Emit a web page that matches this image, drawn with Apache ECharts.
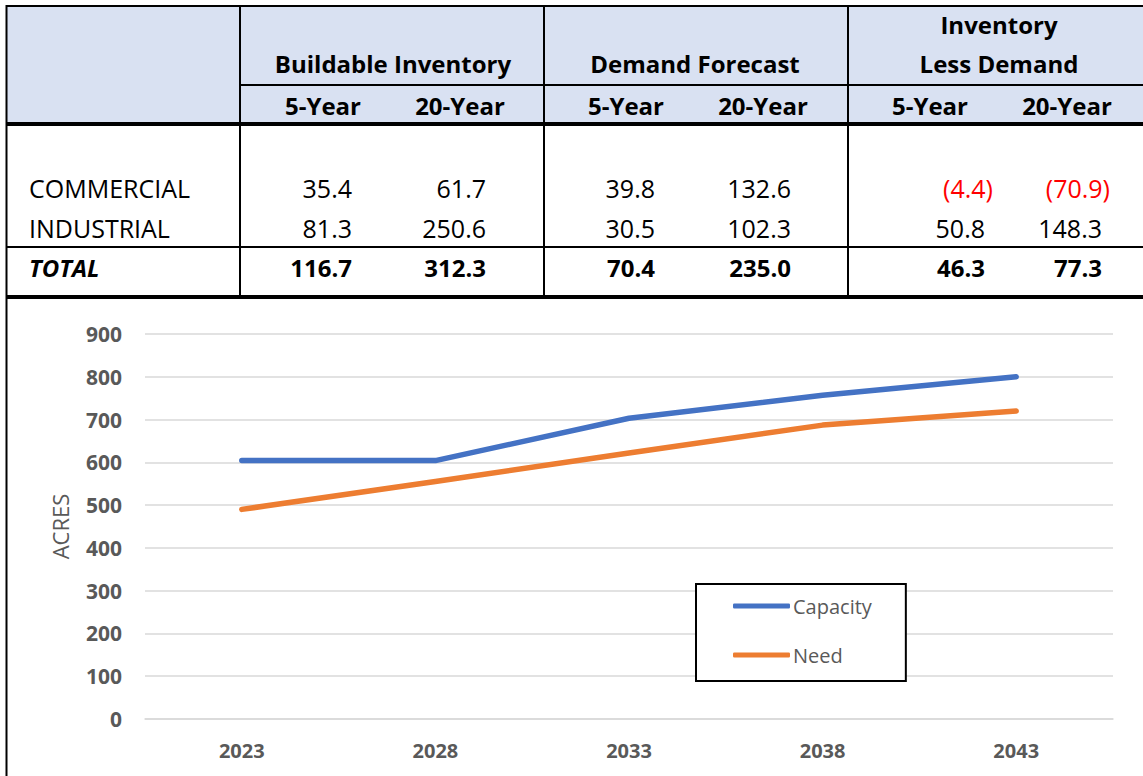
<!DOCTYPE html>
<html>
<head>
<meta charset="utf-8">
<title>Buildable Inventory vs Demand Forecast</title>
<script src="https://cdn.jsdelivr.net/npm/echarts@6/dist/echarts.min.js"></script>
<style>
  html, body { margin: 0; padding: 0; background: #ffffff; }
  #chart { width: 1143px; height: 776px; }
</style>
</head>
<body>
<div id="chart"></div>
<script>
// ---- Summary table data (acres) ----
const rowLabels = ['COMMERCIAL', 'INDUSTRIAL', 'TOTAL'];
const groupHeaders = ['Buildable Inventory', 'Demand Forecast', 'Inventory\nLess Demand'];
const subHeaders = ['5-Year', '20-Year', '5-Year', '20-Year', '5-Year', '20-Year'];
const buildable5 = [35.4, 81.3, 116.7];
const buildable20 = [61.7, 250.6, 312.3];
const demand5 = [39.8, 30.5, 70.4];
const demand20 = [132.6, 102.3, 235.0];
const lessDemand5 = [-4.4, 50.8, 46.3];
const lessDemand20 = [-70.9, 148.3, 77.3];

// ---- Line chart data ----
const years = ['2023', '2028', '2033', '2038', '2043'];
const capacity = [604, 604, 703, 757, 800];
const need = [490, 555, 622, 687, 720];
const yTicks = [0, 100, 200, 300, 400, 500, 600, 700, 800, 900];

// ---- Table layout ----
const FONT = '"Open Sans", "Noto Sans", sans-serif';
const W = 1143;
const groupCenters = [393, 695, 999];
const subCenters = [323, 460, 626, 763, 930, 1067];
const valueRight = [352, 486, 655, 791, 985, 1102];
const rowY = [187.5, 227.5, 267.5];
const columns = [buildable5, buildable20, demand5, demand20, lessDemand5, lessDemand20];

function text(x, y, s, o) {
  o = o || {};
  return {
    type: 'text', x: x, y: y, z: 20, silent: true,
    style: {
      text: s,
      fontFamily: FONT,
      fontSize: o.size || 25,
      fontWeight: o.weight || 'normal',
      fontStyle: o.italic ? 'italic' : 'normal',
      fill: o.color || '#000000',
      align: o.align || 'center',
      verticalAlign: 'middle',
      textAlign: o.align || 'center',
      textVerticalAlign: 'middle'
    }
  };
}
function hline(y, x1, x2, w) {
  return { type: 'line', z: 21, silent: true, shape: { x1: x1, y1: y, x2: x2, y2: y }, style: { stroke: '#000000', lineWidth: w } };
}
function vline(x, y1, y2, w) {
  return { type: 'line', z: 21, silent: true, shape: { x1: x, y1: y1, x2: x, y2: y2 }, style: { stroke: '#000000', lineWidth: w } };
}
// accounting style: negatives in parentheses, closing paren hangs past the column edge
function fmt(v) {
  return v < 0 ? '(' + Math.abs(v).toFixed(1) + ')' : v.toFixed(1);
}

const tableEls = [];
// header shading
tableEls.push({ type: 'rect', z: 19, silent: true, shape: { x: 7, y: 7, width: W - 7, height: 116 }, style: { fill: '#D9E1F2' } });
// group headers
tableEls.push(text(groupCenters[0], 63.5, groupHeaders[0], { size: 24, weight: 'bold' }));
tableEls.push(text(groupCenters[1], 63.5, groupHeaders[1], { size: 24, weight: 'bold' }));
const lastGroup = groupHeaders[2].split('\n');
tableEls.push(text(groupCenters[2], 24.5, lastGroup[0], { size: 24, weight: 'bold' }));
tableEls.push(text(groupCenters[2], 63.5, lastGroup[1], { size: 24, weight: 'bold' }));
// sub headers
subHeaders.forEach(function (s, i) {
  tableEls.push(text(subCenters[i], 105, s, { size: 24, weight: 'bold' }));
});
// body rows
rowLabels.forEach(function (lab, r) {
  const isTotal = r === rowLabels.length - 1;
  tableEls.push(text(29, rowY[r], lab, { align: 'left', weight: isTotal ? 'bold' : 'normal', italic: isTotal, size: isTotal ? 24 : 25 }));
  columns.forEach(function (col, c) {
    const v = col[r];
    tableEls.push(text(valueRight[c] + (v < 0 ? 8 : 0), rowY[r], fmt(v), {
      align: 'right',
      weight: isTotal ? 'bold' : 'normal',
      size: isTotal ? 24 : 25,
      color: v < 0 ? '#FF0000' : '#000000'
    }));
  });
});
// rules
tableEls.push(hline(6, 6, W, 2));
tableEls.push(hline(85, 240, W, 2));
tableEls.push(hline(124, 6, W, 4));
tableEls.push(hline(247, 6, W, 2));
tableEls.push(hline(297, 6, W, 4));
tableEls.push(vline(6.5, 5, 776, 2));
[240, 544, 848].forEach(function (x) { tableEls.push(vline(x, 6, 297, 2)); });

// ---- Chart ----
const chart = echarts.init(document.getElementById('chart'), null, { renderer: 'svg' });
const gray = '#595959';

chart.setOption({
  backgroundColor: '#ffffff',
  animation: false,
  textStyle: { fontFamily: FONT },
  grid: { left: 145, right: 30, top: 334, bottom: 57, containLabel: false },
  legend: {
    orient: 'vertical',
    left: 696,
    top: 584,
    padding: [12, 34, 16, 37],
    itemGap: 29,
    itemWidth: 57,
    itemHeight: 5,
    icon: 'roundRect',
    backgroundColor: '#ffffff',
    borderColor: '#000000',
    borderWidth: 2,
    textStyle: { color: gray, fontSize: 20, fontFamily: FONT, lineHeight: 20, padding: [0, 0, 0, -2] },
    data: ['Capacity', 'Need']
  },
  xAxis: {
    type: 'category',
    data: years,
    boundaryGap: true,
    axisLine: { show: true, lineStyle: { color: '#D9D9D9', width: 1.5 } },
    axisTick: { show: false },
    axisLabel: { color: gray, fontWeight: 'bold', fontSize: 20, margin: 21, fontFamily: FONT }
  },
  yAxis: {
    type: 'value',
    min: yTicks[0],
    max: yTicks[yTicks.length - 1],
    interval: yTicks[1] - yTicks[0],
    name: 'ACRES',
    nameLocation: 'middle',
    nameRotate: 90,
    nameGap: 74,
    nameTextStyle: { color: gray, fontSize: 22, fontFamily: FONT },
    axisLine: { show: false },
    axisTick: { show: false },
    axisLabel: { color: gray, fontWeight: 'bold', fontSize: 21, margin: 23, fontFamily: FONT },
    splitLine: { lineStyle: { color: '#D9D9D9', width: 1.5 } }
  },
  series: [
    {
      name: 'Capacity',
      type: 'line',
      data: capacity,
      symbol: 'none',
      color: '#4472C4',
      lineStyle: { width: 5.5, color: '#4472C4', cap: 'round', join: 'round' },
      z: 3
    },
    {
      name: 'Need',
      type: 'line',
      data: need,
      symbol: 'none',
      color: '#ED7D31',
      lineStyle: { width: 5.5, color: '#ED7D31', cap: 'round', join: 'round' },
      z: 3
    }
  ],
  graphic: { elements: tableEls }
});
</script>
</body>
</html>
